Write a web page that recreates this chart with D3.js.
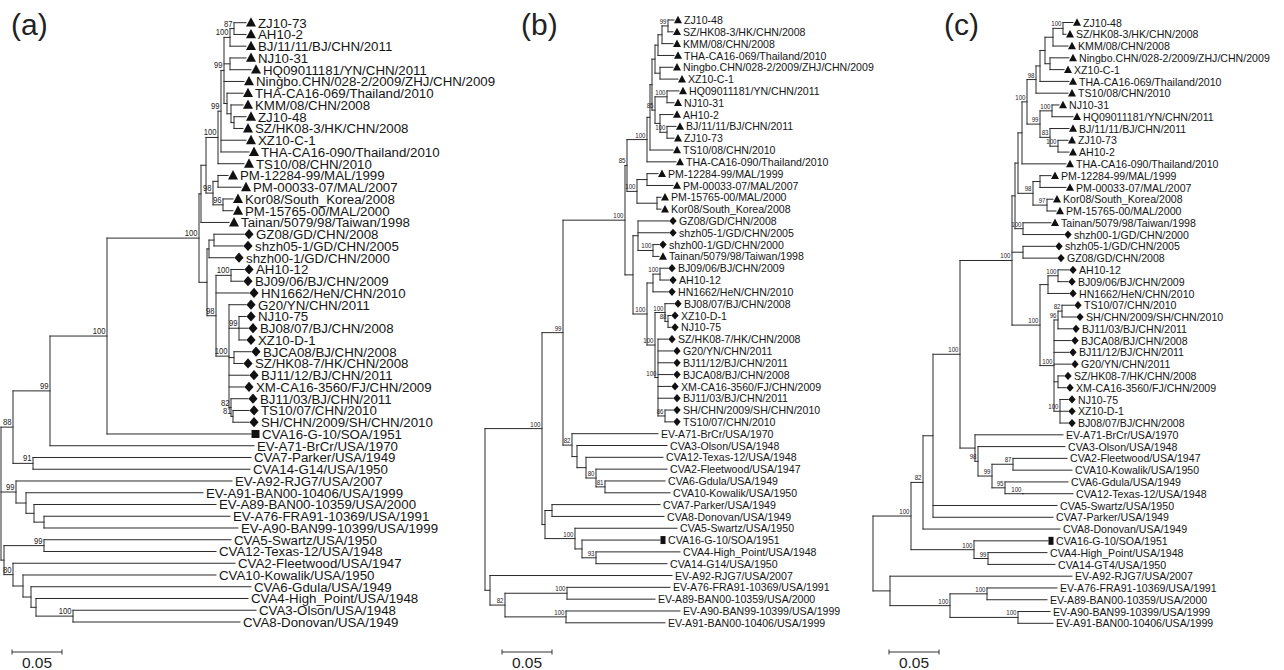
<!DOCTYPE html>
<html>
<head>
<meta charset="utf-8">
<script src="https://cdn.jsdelivr.net/npm/d3@7"></script>
<style>
  body { margin: 0; background: #fff; }
  svg { display: block; }
</style>
</head>
<body>
<svg id="chart" width="1284" height="670"></svg>
<script>
// branch lengths below are written in units of 0.001 substitutions/site
const lengthUnit = 0.001
const scaleBarValue = 0.05
const panelLetters = ["(a)", "(b)", "(c)"]

const triangleStrains = [
  "ZJ10-73", "AH10-2", "BJ/11/11/BJ/CHN/2011", "NJ10-31", "HQ09011181/YN/CHN/2011",
  "Ningbo.CHN/028-2/2009/ZHJ/CHN/2009", "THA-CA16-069/Thailand/2010", "KMM/08/CHN/2008",
  "ZJ10-48", "SZ/HK08-3/HK/CHN/2008", "XZ10-C-1", "THA-CA16-090/Thailand/2010",
  "TS10/08/CHN/2010", "PM-12284-99/MAL/1999", "PM-00033-07/MAL/2007",
  "Kor08/South_Korea/2008", "PM-15765-00/MAL/2000", "Tainan/5079/98/Taiwan/1998"
]
const diamondStrains = [
  "GZ08/GD/CHN/2008", "shzh05-1/GD/CHN/2005", "shzh00-1/GD/CHN/2000", "AH10-12",
  "BJ09/06/BJ/CHN/2009", "HN1662/HeN/CHN/2010", "G20/YN/CHN/2011", "NJ10-75",
  "BJ08/07/BJ/CHN/2008", "XZ10-D-1", "BJCA08/BJ/CHN/2008", "SZ/HK08-7/HK/CHN/2008",
  "BJ11/12/BJ/CHN/2011", "XM-CA16-3560/FJ/CHN/2009", "BJ11/03/BJ/CHN/2011",
  "TS10/07/CHN/2010", "SH/CHN/2009/SH/CHN/2010"
]
const squareStrains = ["CVA16-G-10/SOA/1951"]

const treeA = `
(
  (
    (
      (
        (
          (
            (
              (
                (
                  (
                    ((ZJ10-73:12,AH10-2:12)87:4,BJ/11/11/BJ/CHN/2011:16)100:6,
                    (NJ10-31:16,HQ09011181/YN/CHN/2011:21):6,
                    Ningbo.CHN/028-2/2009/ZHJ/CHN/2009:20,
                    (THA-CA16-069/Thailand/2010:16,(KMM/08/CHN/2008:12,(ZJ10-48:12,SZ/HK08-3/HK/CHN/2008:9):3):4):3
                  )99:3,
                  XZ10-C-1:25,
                  THA-CA16-090/Thailand/2010:28
                )99:3,
                TS10/08/CHN/2010:26
              )100:12,
              ((PM-12284-99/MAL/1999:10,PM-00033-07/MAL/2007:23):5,(Kor08/South_Korea/2008:10,PM-15765-00/MAL/2000:10)96:10)98:7
            ):5,
            Tainan/5079/98/Taiwan/1998:28
          ):2,
          (
            ((GZ08/GD/CHN/2008:30,shzh05-1/GD/CHN/2005:29):5,shzh00-1/GD/CHN/2000:25):2,
            (
              (AH10-12:13,BJ09/06/BJ/CHN/2009:12)100:15,
              HN1662/HeN/CHN/2010:33,
              (
                G20/YN/CHN/2011:17,
                (NJ10-75:7,BJ08/07/BJ/CHN/2008:9,XZ10-D-1:7)99:10,
                (BJCA08/BJ/CHN/2008:17,SZ/HK08-7/HK/CHN/2008:9):5,
                BJ11/12/BJ/CHN/2011:20,
                XM-CA16-3560/FJ/CHN/2009:15,
                (BJ11/03/BJ/CHN/2011:17,(TS10/07/CHN/2010:16,SH/CHN/2009/SH/CHN/2010:16)81:2)82:2
              )100:13
            )98:9
          ):8
        )100:92,
        CVA16-G-10/SOA/1951:144
      )100:57,
      EV-A71-BrCr/USA/1970:204
    )99:37,
    (CVA7-Parker/USA/1949:218,CVA14-G14/USA/1950:217)91:20
  )88:12,
  (EV-A92-RJG7/USA/2007:216,(EV-A91-BAN00-10406/USA/1999:177,(EV-A89-BAN00-10359/USA/2000:182,(EV-A76-FRA91-10369/USA/1991:186,EV-A90-BAN99-10399/USA/1999:194):10):8):10)99:15,
  ((CVA5-Swartz/USA/1950:187,CVA12-Texas-12/USA/1948:172)99:40,(CVA2-Fleetwood/USA/1947:222,(CVA10-Kowalik/USA/1950:193,(CVA6-Gdula/USA/1949:220,(CVA4-High_Point/USA/1948:212,(CVA3-Olson/USA/1948:183,CVA8-Donovan/USA/1949:167)100:37):5):8):10)80:9):3
);`

const treeB = `
(
  (
    (
      (
        (
          (
            (
              (
                (
                  (
                    ((ZJ10-48:6,SZ/HK08-3/HK/CHN/2008:5)99:6,KMM/08/CHN/2008:11):4,
                    THA-CA16-069/Thailand/2010:16
                  ):3,
                  (Ningbo.CHN/028-2/2009/ZHJ/CHN/2009:13,XZ10-C-1:18):5
                ):3,
                ((HQ09011181/YN/CHN/2011:12,NJ10-31:7)100:12,(AH10-2:13,(BJ/11/11/BJ/CHN/2011:9,ZJ10-73:7)100:7):5)85:3
              ):2,
              TS10/08/CHN/2010:23
            ):3,
            THA-CA16-090/Thailand/2010:29
          )100:20,
          ((PM-12284-99/MAL/1999:11,PM-00033-07/MAL/2007:26):10,(PM-15765-00/MAL/2000:4,Kor08/South_Korea/2008:4):20)100:10
        )85:2,
        (
          (GZ08/GD/CHN/2008:31,shzh05-1/GD/CHN/2005:31,(shzh00-1/GD/CHN/2000:6,Tainan/5079/98/Taiwan/1998:6)100:15):5,
          (
            ((BJ09/06/BJ/CHN/2009:8,AH10-12:9)100:7,HN1662/HeN/CHN/2010:15):6,
            (
              (BJ08/07/BJ/CHN/2008:9,(XZ10-D-1:3,NJ10-75:3)88:3)100:10,
              (SZ/HK08-7/HK/CHN/2008:10,G20/YN/CHN/2011:15,BJ11/12/BJ/CHN/2011:15,BJCA08/BJ/CHN/2008:15,XM-CA16-3560/FJ/CHN/2009:13,BJ11/03/BJ/CHN/2011:15,(SH/CHN/2009/SH/CHN/2010:8,TS10/07/CHN/2010:8)86:7)100:3
            )100:8
          )100:14
        ):8
      )100:62,
      (EV-A71-BrCr/USA/1970:86,(CVA3-Olson/USA/1948:90,(CVA12-Texas-12/USA/1948:77,(CVA2-Fleetwood/USA/1947:71,(CVA6-Gdula/USA/1949:60,CVA10-Kowalik/USA/1950:65)81:9)80:10):9):5)82:9
    )99:21,
    ((CVA7-Parker/USA/1949:108,CVA8-Donovan/USA/1949:112):7,(CVA5-Swartz/USA/1950:102,(CVA16-G-10/SOA/1951:78,(CVA4-High_Point/USA/1948:84,CVA14-G14/USA/1950:71)93:14):7)100:30):3
  )100:57,
  (EV-A92-RJG7/USA/2007:182,((EV-A76-FRA91-10369/USA/1991:103,EV-A89-BAN00-10359/USA/2000:88)100:62,(EV-A90-BAN99-10399/USA/1999:114,EV-A91-BAN00-10406/USA/1999:99)100:61)82:15):5
);`

const treeC = `
(
  (
    (
      (
        (
          (
            (
              (
                (
                  (
                    (((((ZJ10-48:10,SZ/HK08-3/HK/CHN/2008:3)100:10,KMM/08/CHN/2008:15):8,(Ningbo.CHN/028-2/2009/ZHJ/CHN/2009:19,XZ10-C-1:14):5):5,THA-CA16-069/Thailand/2010:29):4,TS10/08/CHN/2010:32)98:9,
                    ((NJ10-31:7,HQ09011181/YN/CHN/2011:21)100:12,(BJ/11/11/BJ/CHN/2011:19,(ZJ10-73:10,AH10-2:11)100:8)83:10)99:13
                  )100:5,
                  THA-CA16-090/Thailand/2010:44
                ):4,
                ((PM-12284-99/MAL/1999:11,PM-00033-07/MAL/2007:26):7,(Kor08/South_Korea/2008:6,PM-15765-00/MAL/2000:9)97:14)98:15
              ):3,
              (Tainan/5079/98/Taiwan/1998:28,shzh00-1/GD/CHN/2000:41)100:8
            ):3,
            (shzh05-1/GD/CHN/2005:32,GZ08/GD/CHN/2008:34):11,
            (
              ((AH10-12:11,BJ09/06/BJ/CHN/2009:10)100:10,HN1662/HeN/CHN/2010:21):8,
              (((TS10/07/CHN/2010:12,SH/CHN/2009/SH/CHN/2010:14)82:4,BJ11/03/BJ/CHN/2011:14)96:4,BJCA08/BJ/CHN/2008:17,BJ11/12/BJ/CHN/2011:15,G20/YN/CHN/2011:17,(SZ/HK08-7/HK/CHN/2008:6,XM-CA16-3560/FJ/CHN/2009:8):4,(NJ10-75:8,XZ10-D-1:8,BJ08/07/BJ/CHN/2008:8)100:6)100:14
            )100:28
          )100:52,
          (EV-A71-BrCr/USA/1970:88,(CVA3-Olson/USA/1948:87,((CVA2-Fleetwood/USA/1947:54,CVA10-Kowalik/USA/1950:59)87:21,(CVA6-Gdula/USA/1949:63,(CVA12-Texas-12/USA/1948:50)100:18)95:13)99:14)98:3):15
        )100:27,
        CVA5-Swartz/USA/1950:124,
        CVA7-Parker/USA/1949:120
      ):10,
      CVA8-Donovan/USA/1949:137
    )82:12,
    (CVA16-G-10/SOA/1951:74,(CVA4-High_Point/USA/1948:59,CVA14-GT4/USA/1950:67)99:14)100:63
  )100:38,
  (EV-A92-RJG7/USA/2007:182,((EV-A76-FRA91-10369/USA/1991:70,EV-A89-BAN00-10359/USA/2000:60)100:37,(EV-A90-BAN99-10399/USA/1999:32,EV-A91-BAN00-10406/USA/1999:35)100:68)100:60):17
);`

function parseNewick(text) {
  const tokens = text.replace(/\s+/g, "").split(/([;(),:])/).filter(t => t !== "")
  const ancestors = []
  let tree = {}
  tokens.forEach((token, i) => {
    if (token === "(") {
      const sub = {}
      tree.children = [sub]
      ancestors.push(tree)
      tree = sub
    } else if (token === ",") {
      const sub = {}
      ancestors[ancestors.length - 1].children.push(sub)
      tree = sub
    } else if (token === ")") {
      tree = ancestors.pop()
    } else if (token !== ":" && token !== ";") {
      if (tokens[i - 1] === ":") tree.length = +token
      else tree.name = token
    }
  })
  return tree
}

const svg = d3.select("#chart")
svg.append("rect").attr("width", 1284).attr("height", 670).attr("fill", "#fff")

const fontFamily = "'Liberation Sans', Arial, Helvetica, sans-serif"
const barPx = 50
const barY = 652

const panels = [
  { tree: treeA, letter: panelLetters[0], rootX: 1, top: 22.7, bottom: 622, letterX: 11, barX: 12,
    font: 13.5, squeeze: 0.985, marker: 10, squareW: 8, squareH: 8, support: 9 },
  { tree: treeB, letter: panelLetters[1], rootX: 485, top: 20, bottom: 622.8, letterX: 521, barX: 502,
    font: 11.4, squeeze: 0.93, marker: 8, squareW: 5, squareH: 8, support: 7.2 },
  { tree: treeC, letter: panelLetters[2], rootX: 873, top: 22.5, bottom: 623.3, letterX: 944, barX: 889,
    font: 11.4, squeeze: 0.93, marker: 8, squareW: 5, squareH: 8, support: 7.2 }
]

function markerKind(name) {
  if (triangleStrains.includes(name)) return "tri"
  if (diamondStrains.includes(name)) return "dia"
  if (squareStrains.includes(name)) return "sq"
  return null
}

function drawTree(p) {
  const root = d3.hierarchy(parseNewick(p.tree))
  root.each(d => { d.dist = d.parent ? d.parent.dist + d.data.length * lengthUnit : 0 })
  const leaves = root.leaves()

  const x = d3.scaleLinear().domain([0, scaleBarValue]).range([p.rootX, p.rootX + barPx])
  const y = d3.scaleLinear().domain([0, leaves.length - 1]).range([p.top, p.bottom])

  leaves.forEach((d, i) => { d.py = y(i) })
  root.eachAfter(d => {
    if (d.children) d.py = (d.children[0].py + d.children[d.children.length - 1].py) / 2
  })

  const g = svg.append("g")

  const edges = g.append("g")
    .attr("stroke", "#2a2a2a")
    .attr("stroke-width", 1)
    .attr("stroke-linecap", "square")

  edges.selectAll("line.h")
    .data(root.descendants().filter(d => d.parent))
    .join("line")
    .attr("class", "h")
    .attr("x1", d => x(d.parent.dist))
    .attr("x2", d => x(d.dist))
    .attr("y1", d => d.py)
    .attr("y2", d => d.py)

  edges.selectAll("line.v")
    .data(root.descendants().filter(d => d.children))
    .join("line")
    .attr("class", "v")
    .attr("x1", d => x(d.dist))
    .attr("x2", d => x(d.dist))
    .attr("y1", d => d.children[0].py)
    .attr("y2", d => d.children[d.children.length - 1].py)

  // bootstrap values
  g.selectAll("text.support")
    .data(root.descendants().filter(d => d.children && d.data.name))
    .join("text")
    .attr("class", "support")
    .attr("transform", d => `translate(${x(d.dist) - 1.5},${d.py - 2}) scale(0.85,1)`)
    .attr("text-anchor", "end")
    .attr("font-family", fontFamily)
    .attr("font-size", p.support)
    .attr("fill", "#222")
    .text(d => d.data.name)

  const tri = d3.symbol().type(d3.symbolTriangle).size(Math.sqrt(3) / 4 * p.marker * p.marker)
  const dia = d3.symbol().type(d3.symbolSquare).size(p.marker * p.marker * 0.42)

  g.selectAll("path.tri")
    .data(leaves.filter(d => markerKind(d.data.name) === "tri"))
    .join("path")
    .attr("class", "tri")
    .attr("d", tri)
    .attr("fill", "#111")
    .attr("transform", d => `translate(${x(d.dist) + p.marker / 2},${d.py + 0.8}) scale(1,1.08)`)

  g.selectAll("path.dia")
    .data(leaves.filter(d => markerKind(d.data.name) === "dia"))
    .join("path")
    .attr("class", "dia")
    .attr("d", dia)
    .attr("fill", "#111")
    .attr("transform", d => `translate(${x(d.dist) + p.marker / 2},${d.py}) scale(1,1.12) rotate(45)`)

  g.selectAll("rect.sq")
    .data(leaves.filter(d => markerKind(d.data.name) === "sq"))
    .join("rect")
    .attr("class", "sq")
    .attr("x", d => x(d.dist) + 0.5)
    .attr("y", d => d.py - p.squareH / 2)
    .attr("width", p.squareW)
    .attr("height", p.squareH)
    .attr("fill", "#111")

  const labelX = d => {
    const k = markerKind(d.data.name)
    if (k === "sq") return x(d.dist) + p.squareW + 3
    if (k) return x(d.dist) + p.marker + 2
    return x(d.dist) + 3
  }

  g.selectAll("text.leaf")
    .data(leaves)
    .join("text")
    .attr("class", "leaf")
    .attr("transform", d => `translate(${labelX(d)},${d.py + p.font * 0.36}) scale(${p.squeeze},1)`)
    .attr("font-family", fontFamily)
    .attr("font-size", p.font)
    .attr("fill", "#151515")
    .text(d => d.data.name)

  // panel letter
  svg.append("text")
    .attr("x", p.letterX)
    .attr("y", 35)
    .attr("font-family", fontFamily)
    .attr("font-size", 30)
    .attr("fill", "#222")
    .text(p.letter)

  // scale bar
  const barW = x(scaleBarValue) - x(0)
  const bar = svg.append("g").attr("stroke", "#333").attr("stroke-width", 1)
  bar.append("line")
    .attr("x1", p.barX).attr("x2", p.barX + barW)
    .attr("y1", barY).attr("y2", barY)
  bar.selectAll("line.tick")
    .data([0, barW])
    .join("line")
    .attr("class", "tick")
    .attr("x1", d => p.barX + d).attr("x2", d => p.barX + d)
    .attr("y1", barY - 2.5).attr("y2", barY + 2.5)

  svg.append("text")
    .attr("x", p.barX + barW / 2)
    .attr("y", 668)
    .attr("text-anchor", "middle")
    .attr("font-family", fontFamily)
    .attr("font-size", 15.5)
    .attr("fill", "#222")
    .text(d3.format(".2f")(scaleBarValue))
}

panels.forEach(drawTree)
</script>
</body>
</html>
